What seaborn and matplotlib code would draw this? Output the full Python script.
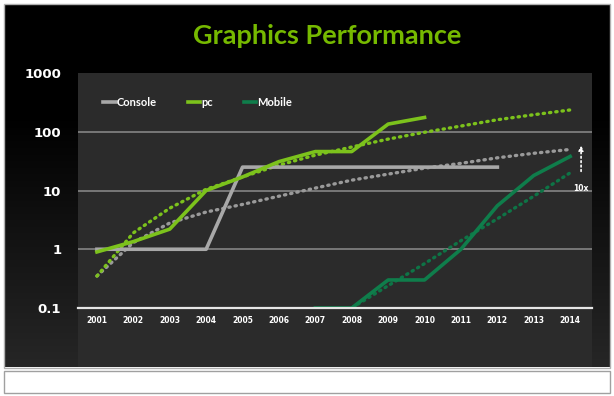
import numpy as np
import pandas as pd
import matplotlib.pyplot as plt
from matplotlib.patches import Rectangle
import seaborn as sns

# Values
years = list(range(2001, 2015))
console_years = list(range(2001, 2013))
console = [1, 1, 1, 1, 25, 25, 25, 25, 25, 25, 25, 25]
pc_years = list(range(2001, 2011))
pc = [0.9, 1.35, 2.2, 10, 17, 31, 46, 46, 135, 175]
mobile_years = list(range(2007, 2015))
mobile = [0.1, 0.1, 0.3, 0.3, 1.0, 5.5, 18, 38]

# dotted trend lines
pc_trend = [0.35, 1.9, 5.0, 10.5, 17, 27, 40, 55, 75, 98, 125, 160, 195, 235]
console_trend = [0.35, 1.3, 2.8, 4.3, 5.8, 8, 11, 15, 19, 24, 29, 36, 43, 50]
mobile_trend = [0.04, 0.1, 0.24, 0.57, 1.4, 3.3, 8.0, 20]

ytick_vals = [0.1, 1, 10, 100, 1000]
ytick_labels = ['0.1', '1', '10', '100', '1000']

GREEN = '#7cc21c'
GRAY = '#a8a8a8'
DKGREEN = '#0f7d4b'
FACE = '#2b2b2b'

W, H = 614, 396
fig = plt.figure(figsize=(W / 100, H / 100), dpi=100, facecolor='white')

def fx(px):
    return px / W

def fy(py):
    return 1 - py / H

# slide frame + gradient background
bg = fig.add_axes([fx(5), fy(367), fx(605), (367 - 5) / H])
grad = np.linspace(0, 1, 200).reshape(-1, 1)
grad = np.clip((grad - 0.3) / 0.7, 0, 1)
bg.imshow(grad, aspect='auto', cmap=sns.blend_palette(['#000000', '#262626'], as_cmap=True),
          extent=[0, 1, 0, 1], origin='upper')
bg.set_axis_off()
fig.patches.append(Rectangle((fx(4), fy(368)), fx(606), (368 - 4) / H, transform=fig.transFigure,
                             fill=False, edgecolor='#b0b0b0', lw=1, zorder=5))
# plot area panel
fig.patches.append(Rectangle((fx(78), fy(367)), fx(592 - 78), (367 - 73) / H, transform=fig.transFigure,
                             facecolor=FACE, edgecolor='none', zorder=1))
# empty caption box below
fig.patches.append(Rectangle((fx(4), fy(393)), fx(606), (393 - 371) / H, transform=fig.transFigure,
                             facecolor='white', edgecolor='#a0a0a0', lw=1, zorder=1))

ax = fig.add_axes([fx(78), fy(308), fx(592 - 78), (308 - 73) / H])
ax.set_facecolor('none')
ax.set_zorder(3)

sns.lineplot(x=years, y=console_trend, ax=ax, color='#9a9a9a', lw=2.4,
             linestyle=(0, (0.4, 1.5)), dash_capstyle='round')
sns.lineplot(x=years, y=pc_trend, ax=ax, color=GREEN, lw=2.4,
             linestyle=(0, (0.4, 1.5)), dash_capstyle='round')
sns.lineplot(x=mobile_years, y=mobile_trend, ax=ax, color='#0e7446', lw=2.4,
             linestyle=(0, (0.4, 1.5)), dash_capstyle='round')

sns.lineplot(x=console_years, y=console, ax=ax, color=GRAY, lw=2.6, label='Console')
sns.lineplot(x=pc_years, y=pc, ax=ax, color=GREEN, lw=2.6, label='pc')
sns.lineplot(x=mobile_years, y=mobile, ax=ax, color=DKGREEN, lw=2.6, label='Mobile')

ax.set_yscale('log')
ax.set_ylim(0.1, 1000)
ax.set_xlim(2000.48, 2014.6)
ax.set_yticks(ytick_vals)
ax.set_yticklabels(ytick_labels)
ax.minorticks_off()
ax.set_xticks(years)
ax.set_xticklabels([str(y) for y in years])
ax.tick_params(axis='y', length=0, pad=12, labelcolor='white', labelsize=9.5)
ax.tick_params(axis='x', length=0, pad=6, labelcolor='white', labelsize=5.5)
for lab in ax.get_xticklabels() + ax.get_yticklabels():
    lab.set_fontweight('bold')
for v in [1, 10, 100]:
    ax.axhline(v, color='#8c8c8c', lw=1.1, zorder=0)
for s in ['top', 'right', 'left']:
    ax.spines[s].set_visible(False)
ax.spines['bottom'].set_color('#e6e6e6')
ax.spines['bottom'].set_linewidth(1.6)
ax.set_xlabel('')
ax.set_ylabel('')

# 10x marker
ax.annotate('', xy=(2014.3, 65), xytext=(2014.3, 19),
            arrowprops=dict(arrowstyle='-|>', color='white', lw=1.2, linestyle=':',
                            mutation_scale=7), zorder=6)
ax.text(2014.3, 11, '10x', color='white', fontsize=5.5, fontweight='bold',
        ha='center', va='center')

leg = ax.legend(loc='upper left', bbox_to_anchor=(0.03, 0.94), ncol=3, frameon=False,
                handlelength=1.1, handletextpad=0.1, columnspacing=2.8,
                prop={'family': 'Lato', 'weight': 'bold', 'size': 8})
for t in leg.get_texts():
    t.set_color('white')

fig.text(fx(327), fy(36), 'Graphics Performance', color='#76b900', fontsize=19.5,
         fontweight='bold', family='Lato', ha='center', va='center')

fig.savefig('out.png', dpi=100, facecolor='white')
